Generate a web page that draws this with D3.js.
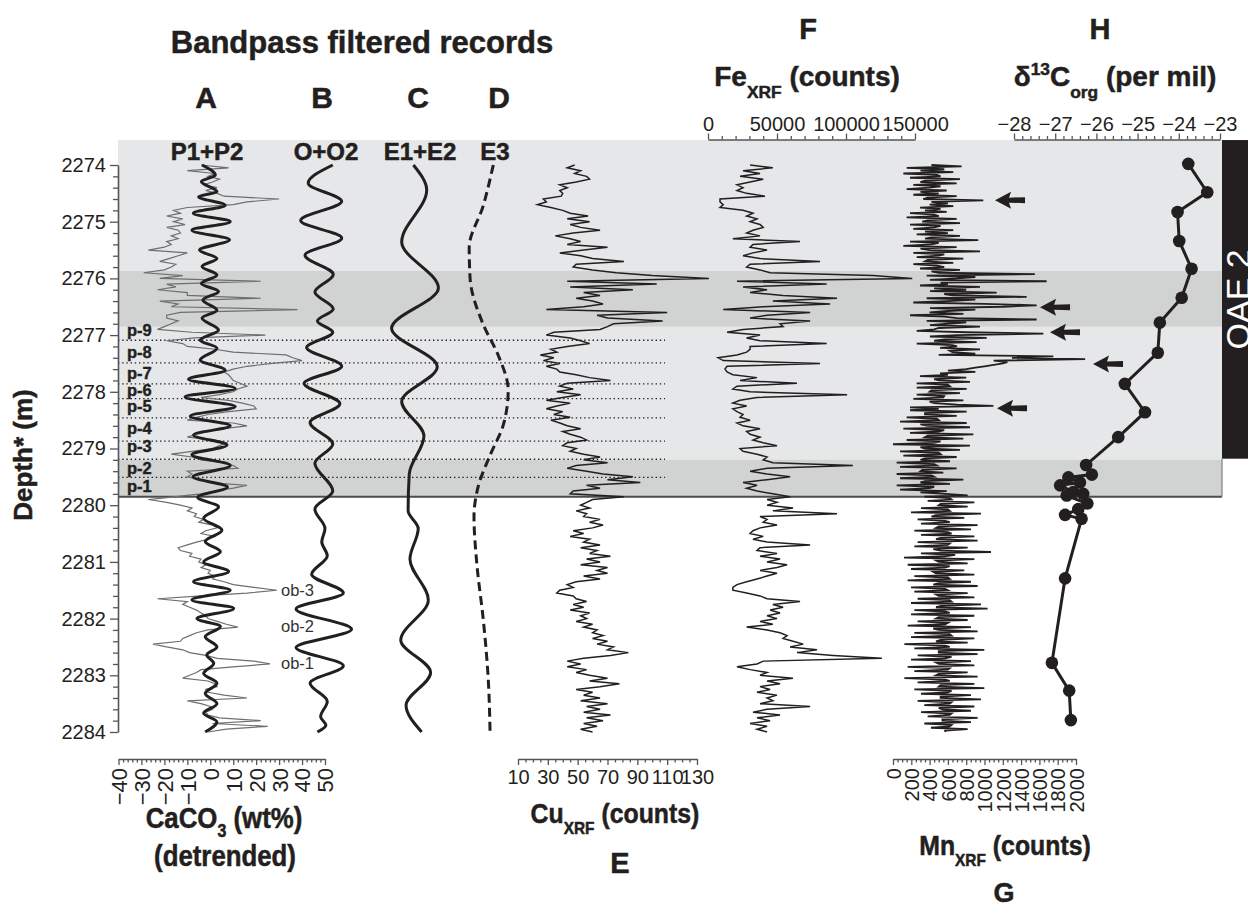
<!DOCTYPE html>
<html><head><meta charset="utf-8">
<script src="https://cdn.jsdelivr.net/npm/d3@7"></script>
<style>
body{margin:0;background:#fff;}
svg{display:block;font-family:"Liberation Sans",Arial,Helvetica,sans-serif;}
</style></head><body>
<svg id="c" width="1248" height="907"></svg>
<script>
// ---------------- DATA ----------------
const depthStart = 2274, step = 0.05, mnStep = 0.025;

// A: detrended CaCO3 (wt%), every 0.05 m from 2274.00
const caco3 = [-4,8,-10,2,-1,4,1,-3,3,-2,
3,6,30,16,10,-10,-16,-13,-19,-12,
-16,-11,-19,-14,-13,-17,-14,-19,-17,-20,
-27,-10,-14,-18,-22,-15,-17,-20,-29,-12,
-22,22,-19,-15,-23,-10,-10,22,-22,-14,
-17,38,-13,-19,-19,-14,-17,-20,-23,-8,
24,-7,-19,-12,-10,2,10,33,36,40,
27,16,10,6,8,9,10,13,16,12,
10,4,-4,8,14,19,20,8,-1,-6,
-10,10,16,6,-1,-6,-10,2,7,4,
1,-8,-17,-8,-4,5,10,12,-10,-8,
-10,-4,-1,16,10,2,-4,-15,-27,-19,
-13,-8,-10,-6,-7,-3,-5,1,3,-2,
-4,2,-1,-6,-10,-14,-13,-8,-9,-4,
-5,-2,-4,0,-1,2,1,6,10,19,
29,16,-4,-23,-10,-12,-9,-6,-4,-2,
-1,3,7,12,-1,-6,-9,-12,-13,-25,
-19,-12,-9,-2,3,19,26,10,-4,-6,
-9,-12,-1,2,3,-2,-1,6,16,-10,
-4,0,1,-2,-1,4,22,1,25,7,
-1];

// A: P1+P2 bandpass (depth, wt%)
const p1p2Depth = [2274.0,2274.18,2274.29,2274.47,2274.56,2274.71,2274.85,2275.0,2275.15,2275.32,2275.5,2275.65,2275.79,2275.94,2276.09,2276.23,2276.38,2276.56,2276.7,2276.91,2277.09,2277.23,2277.44,2277.62,2277.78,2277.94,2278.09,2278.26,2278.43,2278.6,2278.76,2278.94,2279.11,2279.3,2279.5,2279.68,2279.86,2280.03,2280.23,2280.44,2280.64,2280.82,2281.0,2281.17,2281.35,2281.5,2281.67,2281.82,2282.0,2282.14,2282.32,2282.5,2282.64,2282.79,2282.97,2283.14,2283.32,2283.5,2283.67,2283.82,2284.0];
const p1p2Val = [-3.6,2.2,-3.9,2.9,-5.1,6.5,-7.4,8.7,-8.0,8.4,-4.7,2.9,-3.6,2.9,-3.9,3.6,-3.2,2.9,-3.6,3.6,-4.4,2.9,-4.4,6.5,-9.5,10.9,-11.0,10.9,-8.7,8.7,-7.3,7.3,-8.0,8.7,-7.5,7.5,-5.5,3.6,-2.9,5.1,-2.2,4.4,-2.9,8.0,-7.3,8.7,-8.0,10.2,-5.8,4.4,-2.2,2.9,-1.5,1.5,-2.9,2.9,-2.2,2.9,-2.9,2.9,-2.2];

// B: O+O2
const oo2Depth = [2274.0,2274.32,2274.64,2274.98,2275.29,2275.59,2275.93,2276.24,2276.54,2276.75,2276.95,2277.22,2277.55,2277.85,2278.21,2278.54,2278.92,2279.26,2279.75,2280.07,2280.41,2280.65,2280.89,2281.22,2281.55,2281.83,2282.19,2282.51,2282.83,2283.14,2283.46,2283.73,2283.88,2284.0];
const oo2Val = [4.7,-6.0,8.6,-9.3,8.6,-7.4,4.9,-3.1,4.9,-2.0,4.7,-6.7,8.6,-7.8,7.8,-5.2,4.7,-3.1,4.7,-3.1,1.3,-0.1,2.3,-4.5,9.3,-11.3,12.9,-11.3,9.3,-5.2,2.3,-0.6,1.7,-2.0];

// C: E1+E2
const e12Depth = [2274.0,2274.44,2275.36,2276.17,2276.88,2277.56,2278.17,2278.78,2279.45,2280.1,2280.41,2280.95,2281.67,2282.38,2282.95,2283.53,2284.0];
const e12Val = [-0.7,5.1,-5.8,10.2,-10.2,9.7,-5.8,3.9,-2.5,-3.0,1.4,-2.2,5.8,-6.2,6.8,-3.9,2.9];

// D: E3
const e3Depth = [2274.0,2274.71,2275.46,2276.0,2276.82,2277.36,2277.97,2278.58,2279.12,2279.66,2280.21,2281.02,2282.04,2283.06,2284.0];
const e3Val = [2.3,-2.0,-8.2,-7.8,-2.0,4.5,8.8,6.7,0.9,-4.2,-6.1,-4.9,-2.0,0.1,0.9];

// E: Cu XRF counts, every 0.05 m
const cuXRF = [48,43,52,48,56,58,49,38,43,38,
40,39,27,29,23,32,40,45,57,43,
58,45,52,65,47,35,45,52,43,70,
54,38,52,60,81,49,47,60,76,100,
138,43,103,45,87,54,65,49,60,67,
54,29,110,63,70,107,74,70,65,34,
29,45,52,58,43,32,36,25,34,27,
38,29,36,38,49,58,72,43,38,47,
36,52,40,29,45,36,29,40,34,45,
32,38,43,52,40,45,52,56,43,40,
49,45,54,65,54,70,49,43,56,67,
87,70,92,56,65,47,45,81,60,56,
52,58,49,56,54,65,58,67,60,47,
54,45,58,54,65,52,63,58,72,56,
65,52,70,63,70,54,65,49,43,47,
38,36,47,49,56,47,54,45,58,52,
56,49,60,54,63,60,67,60,70,63,
74,70,84,72,54,43,52,43,56,49,
58,70,58,78,65,49,60,54,65,52,
70,56,65,54,72,56,67,54,63,52,
60];

// F: Fe XRF counts, every 0.05 m
const feXRF = [30500,47000,25400,37700,23200,40000,30500,21000,25400,21000,
28000,41300,8700,8700,11000,8700,25400,32600,28000,35500,
30500,37700,40000,32600,28000,37700,18000,66700,32600,30500,
42800,32600,25400,37700,81200,30500,28000,37700,45000,119600,
148000,21000,86000,25400,42800,30500,54400,93500,47000,88500,
40000,11000,74000,42800,30500,74000,52200,54400,25400,13800,
37700,28000,37700,86000,30500,30500,28000,21000,7300,11000,
81200,13800,12300,13800,18000,35500,23200,64500,21000,18000,
30500,100800,35500,23200,18000,28000,18000,21000,25400,23200,
30500,21000,25400,37700,28000,30500,37700,32600,40000,50000,
23200,25400,35500,42800,40000,47000,105000,42800,30500,42800,
59500,42800,25400,35500,28000,35500,47000,59500,42800,50000,
42800,61600,47000,93500,37700,42800,40000,50000,37700,32600,
30500,40000,32600,42800,74000,37700,35500,50000,37700,52200,
42800,57300,50000,37700,50000,42800,35500,28000,21000,18000,
18000,28000,37700,42800,66700,47000,54400,45000,52200,42800,
50000,37700,47000,28000,42800,52200,57300,54400,61600,69000,
59500,79000,64500,90600,126000,40000,35500,21000,30500,42800,
37700,61600,42800,52200,37700,45000,35500,50000,42800,47000,
37700,74000,42800,32600,52200,35500,45000,30500,42800,35500,
42800];

// G: Mn XRF counts, every 0.025 m
const mnXRF = [420,750,150,560, 300,659,113,480, 520,186,732,350, 300,696,222,520, 400,149,587,300,
500,222,696,380, 332,987,420,600, 400,659,295,520, 350,587,186,450, 500,149,696,380,
320,732,186,520, 450,222,659,350, 600,259,732,420, 350,932,186,500, 420,113,696,300,
400,951,222,560, 500,259,769,380, 350,659,222,480, 560,295,732,420, 500,1550,368,900,
700,404,1679,520, 600,295,951,450, 800,404,1133,560, 650,1461,368,900, 600,222,1000,1570,
1200,404,900,600, 400,769,186,560, 700,1570,368,800, 600,404,951,500, 450,259,800,1643,
700,404,1024,560, 450,914,259,650, 700,514,951,620, 650,900,500,1752, 1300,2100,1100,1250,
1200,1100,1000,900, 800,600,900,514, 600,295,800,450, 500,841,259,600, 620,259,805,420,
400,732,259,560, 550,222,769,400, 450,700,1097,186, 500,186,805,350, 350,696,149,480,
500,77,805,300, 380,841,113,560, 500,186,878,380, 350,769,149,520, 450,0,841,300,
350,732,77,500, 520,113,696,350, 300,623,40,450, 480,77,696,320, 300,550,40,420,
450,77,769,350, 300,623,40,450, 400,77,587,300, 570,816,342,620, 640,379,889,520,
500,816,306,600, 620,197,961,470, 420,779,269,570, 620,306,925,500, 470,852,233,600,
640,306,889,520, 470,925,269,620, 600,233,816,440, 520,1071,306,680, 570,120,889,470,
500,816,160,620, 570,197,779,440, 470,889,233,600, 620,160,852,500, 440,925,197,570,
600,233,816,470, 500,889,269,620, 640,197,961,520, 470,1034,233,570, 620,197,889,500,
470,816,269,600, 570,160,852,440, 500,925,233,620, 640,197,889,520, 470,816,124,570,
620,233,998,500, 500,925,269,640, 570,197,852,470, 500,889,160,620, 600,233,816,500,
470,925,124,570, 620,269,889,520, 500,998,233,640, 600,306,852,520, 520,961,269,640,
620,342,889,500, 540,852,306,640, 620,379,925,540, 540,852,342,640, 620,415,816,570,
570];

// H: d13C org (per mil)
const d13cDepth = [2273.98,2274.48,2274.83,2275.34,2275.83,2276.34,2276.78,2277.31,2277.86,2278.36,2278.80,2279.29,2279.46,2279.51,2279.60,2279.65,2279.77,2279.80,2279.83,2279.97,2280.07,2280.17,2280.24,2281.29,2282.78,2283.27,2283.79];
const d13cVal = [-23.77,-23.31,-24.03,-23.99,-23.69,-23.93,-24.46,-24.51,-25.31,-24.82,-25.47,-26.25,-26.11,-26.68,-26.40,-26.88,-26.56,-26.32,-26.72,-26.22,-26.44,-26.76,-26.36,-26.76,-27.08,-26.66,-26.62];

// Mn arrows (depth, Mn counts at arrow tip)
const arrowDepth = [2274.62,2276.51,2276.95,2277.51,2278.29];
const arrowTip = [1115,1607,1716,2186,1137];

// annotation depths
const cycleBounds = [2277.09,2277.49,2277.86,2278.12,2278.46,2278.87,2279.19,2279.51];
const cycleLabels = ["p-9","p-8","p-7","p-6","p-5","p-4","p-3","p-2","p-1"];
const cycleLabelDepth = [2276.92,2277.30,2277.67,2277.97,2278.26,2278.64,2278.97,2279.35,2279.67];
const obLabels = ["ob-3","ob-2","ob-1"];
const obDepth = [2281.50,2282.14,2282.79];
const boxTop = 2273.56, boxBottom = 2279.85, oaeBottom = 2279.18;
const darkBands = [[2275.87,2276.85],[2279.20,2279.85]];

// ticks
const depthTicks = d3.range(2274, 2285, 1);
const caco3Ticks = [-40,-30,-20,-10,0,10,20,30,40,50];
const cuTicks = [10,30,50,70,90,110,130];
const feTicks = [0,50000,100000,150000];
const mnTicks = [0,200,400,600,800,1000,1200,1400,1600,1800,2000];
const d13cTicks = [-28,-27,-26,-25,-24,-23];

// ---------------- CHART ----------------
const svg = d3.select("#c");
const INK = "#231f20";
const X0 = 118, X1 = 1222;
const y = d3.scaleLinear().domain([2274, 2284]).range([165, 732]);
const xCa = d3.scaleLinear().domain([-40, 50]).range([118.5, 325]);
const pxPerWt = (xCa(10) - xCa(0)) / 10;
const xB = d3.scaleLinear().domain([-10, 10]).range([322 - 10*pxPerWt, 322 + 10*pxPerWt]);
const xC = d3.scaleLinear().domain([-10, 10]).range([415 - 10*pxPerWt, 415 + 10*pxPerWt]);
const xD = d3.scaleLinear().domain([-10, 10]).range([488 - 10*pxPerWt, 488 + 10*pxPerWt]);
const xCu = d3.scaleLinear().domain([10, 130]).range([518, 697]);
const xFe = d3.scaleLinear().domain([0, 150000]).range([708, 915]);
const xMn = d3.scaleLinear().domain([0, 2000]).range([893, 1076]);
const xC13 = d3.scaleLinear().domain([-28, -23]).range([1014, 1220]);

const dep = (i, s) => depthStart + i * s;

// background box
svg.append("rect").attr("x", X0).attr("y", y(boxTop)).attr("width", X1 - X0)
  .attr("height", y(boxBottom) - y(boxTop)).attr("fill", "#e6e7e8");
darkBands.forEach(b => svg.append("rect").attr("x", X0).attr("y", y(b[0]))
  .attr("width", X1 - X0).attr("height", y(b[1]) - y(b[0])).attr("fill", "#d1d2d2"));
svg.append("line").attr("x1", X0).attr("x2", X1).attr("y1", y(boxBottom)).attr("y2", y(boxBottom))
  .attr("stroke", "#4d4d4f").attr("stroke-width", 2);
svg.append("line").attr("x1", X1).attr("x2", X1).attr("y1", y(oaeBottom)).attr("y2", y(boxBottom))
  .attr("stroke", "#808082").attr("stroke-width", 1.2);
// OAE 2 bar
svg.append("rect").attr("x", X1).attr("y", y(boxTop)).attr("width", 1248 - X1)
  .attr("height", y(oaeBottom) - y(boxTop)).attr("fill", INK);
svg.append("text").attr("transform", `translate(1250,${(y(boxTop) + y(oaeBottom)) / 2}) rotate(-90)`)
  .attr("text-anchor", "middle").attr("font-size", 34).attr("fill", "#fff").text("OAE 2");

// dotted cycle boundaries
svg.append("g").selectAll("line").data(cycleBounds).join("line")
  .attr("x1", X0).attr("x2", 665).attr("y1", d => y(d)).attr("y2", d => y(d))
  .attr("stroke", "#231f20").attr("stroke-width", 1.4).attr("stroke-dasharray", "1.4 2.8");

// series
const lineGen = (xs) => d3.line().x(d => xs(d.v)).y(d => y(d.d));
const reg = (arr, s) => arr.map((v, i) => ({d: dep(i, s), v}));
const pairs = (ds, vs) => ds.map((d, i) => ({d, v: vs[i]}));

svg.append("path").datum(reg(caco3, step)).attr("d", lineGen(xCa))
  .attr("fill", "none").attr("stroke", "#6d6e71").attr("stroke-width", 1.2);
svg.append("path").datum(pairs(p1p2Depth, p1p2Val)).attr("d", lineGen(xCa).curve(d3.curveMonotoneY))
  .attr("fill", "none").attr("stroke", INK).attr("stroke-width", 3);
svg.append("path").datum(pairs(oo2Depth, oo2Val)).attr("d", lineGen(xB).curve(d3.curveMonotoneY))
  .attr("fill", "none").attr("stroke", INK).attr("stroke-width", 3);
svg.append("path").datum(pairs(e12Depth, e12Val)).attr("d", lineGen(xC).curve(d3.curveMonotoneY))
  .attr("fill", "none").attr("stroke", INK).attr("stroke-width", 3);
svg.append("path").datum(pairs(e3Depth, e3Val)).attr("d", lineGen(xD).curve(d3.curveMonotoneY))
  .attr("fill", "none").attr("stroke", INK).attr("stroke-width", 3).attr("stroke-dasharray", "9 5");
svg.append("path").datum(reg(cuXRF, step)).attr("d", lineGen(xCu))
  .attr("fill", "none").attr("stroke", INK).attr("stroke-width", 1.5);
svg.append("path").datum(reg(feXRF, step)).attr("d", lineGen(xFe))
  .attr("fill", "none").attr("stroke", INK).attr("stroke-width", 1.5);
svg.append("path").datum(reg(mnXRF, mnStep)).attr("d", lineGen(xMn))
  .attr("fill", "none").attr("stroke", INK).attr("stroke-width", 1.8);

// d13C
const c13 = pairs(d13cDepth, d13cVal);
svg.append("path").datum(c13).attr("d", lineGen(xC13)).attr("fill", "none")
  .attr("stroke", INK).attr("stroke-width", 3);
svg.append("g").selectAll("circle").data(c13).join("circle")
  .attr("cx", d => xC13(d.v)).attr("cy", d => y(d.d)).attr("r", 6.3).attr("fill", INK);

// arrows
const ag = svg.append("g").attr("fill", INK);
arrowDepth.forEach((d, i) => {
  const tx = xMn(arrowTip[i]), ty = y(d);
  ag.append("path").attr("d",
    `M${tx},${ty} L${tx + 16},${ty - 8.5} L${tx + 14},${ty - 2.5} L${tx + 30},${ty - 3} L${tx + 30},${ty + 3} L${tx + 14},${ty + 2.5} L${tx + 16},${ty + 8.5} Z`);
});

// labels inside
svg.append("g").selectAll("text").data(cycleLabels).join("text")
  .attr("x", 127).attr("y", (d, i) => y(cycleLabelDepth[i])).attr("dy", "0.33em")
  .attr("font-size", 16.5).attr("font-weight", "bold").attr("fill", INK)
  .attr("stroke", INK).attr("stroke-width", 0.4).text(d => d);
svg.append("g").selectAll("text").data(obLabels).join("text")
  .attr("x", 281).attr("y", (d, i) => y(obDepth[i])).attr("dy", "0.35em")
  .attr("font-size", 16.5).attr("fill", "#333").text(d => d);

// ---------- axes ----------
function styleAxis(g, fs) {
  g.select(".domain").attr("stroke", "#555").attr("stroke-width", 1.6);
  g.selectAll(".tick line").attr("stroke", "#555").attr("stroke-width", 1.3);
  g.selectAll(".tick text").attr("fill", INK).attr("font-size", fs)
    .attr("font-family", '"Liberation Sans",Arial,sans-serif');
}
function minors(lo, hi, st, majors) {
  return d3.range(lo, hi + st / 2, st).filter(v => !majors.some(m => Math.abs(m - v) < st / 10));
}
// depth axis
const gy = svg.append("g").attr("transform", `translate(${X0},0)`);
gy.call(d3.axisLeft(y).tickValues(depthTicks).tickSize(8).tickSizeOuter(0).tickPadding(4).tickFormat(d3.format("d")));
const gym = gy.append("g").call(d3.axisLeft(y).tickValues(minors(2274, 2284, 0.2, depthTicks)).tickSize(5).tickSizeOuter(0).tickFormat(""));
gym.select(".domain").remove();
styleAxis(gy, 20);

// bottom axes
function bottomAxis(scale, majors, minorVals, rotate, yPos, fs) {
  const g = svg.append("g").attr("transform", `translate(0,${yPos})`);
  g.call(d3.axisBottom(scale).tickValues(majors).tickSize(6).tickSizeOuter(0).tickPadding(5).tickFormat(d3.format("d")));
  const gm = g.append("g").call(d3.axisBottom(scale).tickValues(minorVals).tickSize(3.5).tickSizeOuter(0).tickFormat(""));
  gm.select(".domain").remove();
  styleAxis(g, fs);
  if (rotate) {
    g.selectAll(".tick text").attr("transform", "rotate(-90)").attr("x", -9).attr("y", 0)
      .attr("dy", "0.36em").attr("text-anchor", "end");
  }
  return g;
}
bottomAxis(xCa, caco3Ticks, minors(-40, 50, 2, caco3Ticks), true, 759, 22);
bottomAxis(xCu, cuTicks, minors(10, 130, 5, cuTicks), false, 759, 20);
bottomAxis(xMn, mnTicks, minors(0, 2000, 50, mnTicks), true, 759, 20);

// top axes
function topAxis(scale, majors, minorVals, yPos, fmt) {
  const g = svg.append("g").attr("transform", `translate(0,${yPos})`);
  g.call(d3.axisTop(scale).tickValues(majors).tickSize(6).tickSizeOuter(0).tickPadding(3).tickFormat(fmt));
  const gm = g.append("g").call(d3.axisTop(scale).tickValues(minorVals).tickSize(3.5).tickSizeOuter(0).tickFormat(""));
  gm.select(".domain").remove();
  styleAxis(g, 20);
  return g;
}
topAxis(xFe, feTicks, minors(0, 150000, 10000, feTicks), 139.5, d3.format("d"));
topAxis(xC13, d13cTicks, minors(-28, -23, 0.2, d13cTicks), 139.5, d3.format("d"));

// ---------- titles ----------
function rich(x, yy, parts, size, sx = 1, subShift = 0.42) {
  const t = svg.append("text").attr("transform", `translate(${x},${yy}) scale(${sx},1)`)
    .attr("text-anchor", "middle").attr("font-size", size).attr("font-weight", "bold")
    .attr("fill", INK).attr("stroke", INK).attr("stroke-width", 0.5);
  let shift = 0;
  parts.forEach(p => {
    const target = p.sub ? size * subShift : p.sup ? -size * 0.4 : 0;
    t.append("tspan").attr("dy", target - shift).attr("font-size", (p.sub || p.sup) ? size * 0.62 : size).text(p.t);
    shift = target;
  });
  return t;
}
rich(362, 53, [{t: "Bandpass filtered records"}], 31);
[["A", 206], ["B", 322], ["C", 418], ["D", 499]].forEach(a => rich(a[1], 108, [{t: a[0]}], 30));
[["P1+P2", 207], ["O+O2", 326], ["E1+E2", 420], ["E3", 495]].forEach(a => rich(a[1], 160, [{t: a[0]}], 24));
rich(808, 39, [{t: "F"}], 29);
rich(1100, 39, [{t: "H"}], 29);
rich(807, 86, [{t: "Fe"}, {t: "XRF", sub: true}, {t: " (counts)"}], 28);
rich(1115, 86, [{t: "δ"}, {t: "13", sup: true}, {t: "C"}, {t: "org", sub: true}, {t: " (per mil)"}], 28);
rich(224, 828, [{t: "CaCO"}, {t: "3", sub: true}, {t: " (wt%)"}], 29, 0.89, 0.3);
rich(225, 866, [{t: "(detrended)"}], 29, 0.89);
rich(615, 823, [{t: "Cu"}, {t: "XRF", sub: true}, {t: " (counts)"}], 27, 0.92);
rich(620, 873, [{t: "E"}], 29);
rich(1005, 855, [{t: "Mn"}, {t: "XRF", sub: true}, {t: " (counts)"}], 27, 0.92);
rich(1004, 902, [{t: "G"}], 27);
svg.append("text").attr("transform", "translate(32,455) rotate(-90)").attr("text-anchor", "middle")
  .attr("font-size", 26).attr("font-weight", "bold").attr("fill", INK)
  .attr("stroke", INK).attr("stroke-width", 0.5).text("Depth* (m)");
</script>
</body></html>
